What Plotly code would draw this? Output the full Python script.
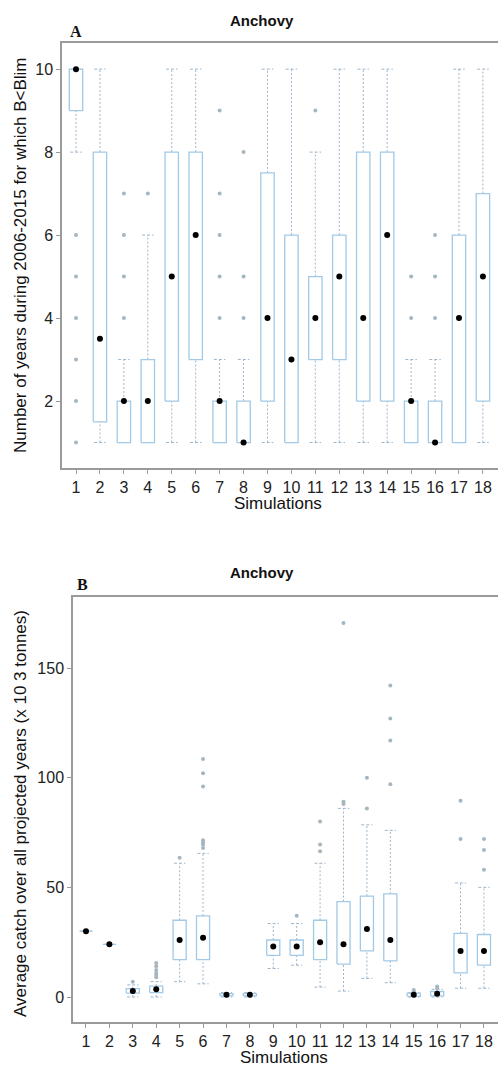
import plotly.graph_objects as go

sims = list(range(1, 19))
sim_labels = [str(s) for s in sims]

# Panel A: number of years with B<Blim
top_q1 = [9, 1.5, 1, 1, 2, 3, 1, 1, 2, 1, 3, 3, 2, 2, 1, 1, 1, 2]
top_med = [10, 3.5, 2, 2, 5, 6, 2, 1, 4, 3, 4, 5, 4, 6, 2, 1, 4, 5]
top_q3 = [10, 8, 2, 3, 8, 8, 2, 2, 7.5, 6, 5, 6, 8, 8, 2, 2, 6, 7]
top_lo = [8, 1, 1, 1, 1, 1, 1, 1, 1, 1, 1, 1, 1, 1, 1, 1, 1, 1]
top_hi = [10, 10, 3, 6, 10, 10, 3, 3, 10, 10, 8, 10, 10, 10, 3, 3, 10, 10]
top_out = [[1, 2, 3, 4, 5, 6], [], [4, 5, 6, 7], [7], [], [], [4, 5, 6, 7, 9], [4, 5, 8], [],
           [], [9], [], [], [], [4, 5], [4, 5, 6], [], []]
top_ticks = [2, 4, 6, 8, 10]

# Panel B: average catch (x10^3 tonnes)
bot_q1 = [30, 24, 1.8, 2, 17, 17, 0.5, 0.5, 19, 19, 17, 15, 21, 16.5, 0.3, 0.5, 11, 14.5]
bot_med = [30, 24, 2.7, 3.5, 26, 27, 1, 1, 23, 23, 25, 24, 31, 26, 1, 1.5, 21, 21]
bot_q3 = [30, 24, 3.8, 5, 35, 37, 1.5, 1.5, 26, 26, 35, 43.5, 46, 47, 1.8, 2.5, 29, 28.5]
bot_lo = [30, 24, 0, 0, 7, 6, 0, 0, 13, 14.5, 4.5, 2.7, 8.5, 6.5, 0, 0, 4, 4]
bot_hi = [30, 24, 5.5, 7, 61, 65.5, 2, 2, 33.5, 33.5, 61, 86, 78.5, 76, 2, 3.5, 52, 50]
bot_out = [[], [], [7], [9, 10, 11, 12.3, 14, 15.5], [63.5], [68, 69.5, 70.5, 71.5, 96, 102, 108.5],
           [], [], [], [37], [66.5, 69.5, 80], [88, 89, 170.5], [86, 100], [97, 117, 127, 142],
           [2.6, 3.2], [4, 4.8], [72, 89.5], [58, 67, 72]]
bot_ticks = [0, 50, 100, 150]

BOX_C = "#a2c9e6"
WHISK_C = "#9db5ca"
OUT_C = "#a6b6c0"
AX_C = "#9a9a9a"
FONT = "Liberation Sans, Arial, sans-serif"

fig = go.Figure()


def add_panel(q1, med, q3, lo, hi, outs, xa, ya, bw=0.28, cw=0.24):
    bx, by, wx, wy, cx, cy, ox, oy = [], [], [], [], [], [], [], []
    for i, s in enumerate(sims):
        bx += [s - bw, s + bw, s + bw, s - bw, s - bw, None]
        by += [q1[i], q1[i], q3[i], q3[i], q1[i], None]
        wx += [s, s, None, s, s, None]
        wy += [q3[i], hi[i], None, lo[i], q1[i], None]
        cx += [s - cw, s + cw, None, s - cw, s + cw, None]
        cy += [hi[i], hi[i], None, lo[i], lo[i], None]
        for v in outs[i]:
            ox.append(s)
            oy.append(v)
    common = dict(xaxis=xa, yaxis=ya, showlegend=False, hoverinfo="skip")
    fig.add_trace(go.Scatter(x=wx, y=wy, mode="lines",
                             line=dict(color=WHISK_C, width=1, dash="2px,2px"), **common))
    fig.add_trace(go.Scatter(x=cx, y=cy, mode="lines",
                             line=dict(color=WHISK_C, width=1, dash="3px,2px"), **common))
    fig.add_trace(go.Scatter(x=bx, y=by, mode="lines",
                             line=dict(color=BOX_C, width=1.3), **common))
    fig.add_trace(go.Scatter(x=ox, y=oy, mode="markers",
                             marker=dict(color=OUT_C, size=4), **common))
    fig.add_trace(go.Scatter(x=sims, y=med, mode="markers",
                             marker=dict(color="black", size=6), **common))


add_panel(top_q1, top_med, top_q3, top_lo, top_hi, top_out, "x", "y")
add_panel(bot_q1, bot_med, bot_q3, bot_lo, bot_hi, bot_out, "x2", "y2")

H = 1068.0
W = 498.0

axis_common = dict(showline=True, linecolor=AX_C, linewidth=1.5, ticks="outside",
                   ticklen=4, tickcolor=AX_C, showgrid=False, zeroline=False,
                   tickfont=dict(family=FONT, size=16, color="#222"))

fig.update_layout(
    width=498, height=1068,
    margin=dict(l=0, r=0, t=0, b=0),
    paper_bgcolor="white", plot_bgcolor="white",
    font=dict(family=FONT, color="#222"),
    xaxis=dict(domain=[62 / W, 1], range=[0.415, 18.63], tickvals=sims, ticktext=sim_labels,
               mirror=True, anchor="y", **axis_common),
    yaxis=dict(domain=[1 - 468 / H, 1 - 43 / H], range=[0.386, 10.63], tickvals=top_ticks,
               anchor="x", **axis_common),
    xaxis2=dict(domain=[73 / W, 1], range=[0.445, 18.6], tickvals=sims, ticktext=sim_labels,
                mirror=True, anchor="y2", **axis_common),
    yaxis2=dict(domain=[1 - 1022 / H, 1 - 597 / H], range=[-11.4, 182.4], tickvals=bot_ticks,
                anchor="x2", **axis_common),
)

ann = []


def t(x, y, text, size=15, angle=0, family=FONT, xanchor="center"):
    ann.append(dict(x=x / W, y=1 - y / H, xref="paper", yref="paper", text=text,
                    showarrow=False, textangle=angle, xanchor=xanchor, yanchor="middle",
                    font=dict(family=family, size=size, color="#111")))


t(262, 20, "<b>Anchovy</b>", size=15)
t(262, 572, "<b>Anchovy</b>", size=15)
t(68, 32, "<b>A</b>", size=16, family="Liberation Serif, Times New Roman, serif", xanchor="left")
t(75, 584, "<b>B</b>", size=16, family="Liberation Serif, Times New Roman, serif", xanchor="left")
t(278, 503, "Simulations", size=17)
t(284, 1057, "Simulations", size=17)
t(20, 256, "Number of years during 2006-2015 for which B&lt;Blim", size=17, angle=-90)
t(20, 814, "Average catch over all projected years (x 10 3 tonnes)", size=17, angle=-90)

fig.update_layout(annotations=ann)

fig.write_html("out.html", config={"displayModeBar": False},
               post_script="document.body.style.margin='0';document.body.style.overflow='hidden';")
